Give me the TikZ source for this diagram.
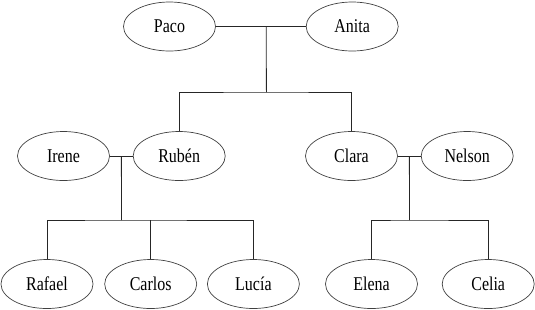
\documentclass[tikz,border=0pt]{standalone}
\usepackage{fontspec}
\newfontfamily\nameserif[FakeStretch=0.82]{Liberation Serif}
\usepackage{tikz}
\usetikzlibrary{positioning, shapes.geometric}
\tikzstyle{person} = [ellipse, draw=black!75, line width=0.7pt, minimum width=92pt,
  minimum height=49pt, inner sep=0pt, font=\nameserif\fontsize{19.5}{20}\selectfont]
\tikzstyle{link} = [draw=black!85, line width=0.8pt]
\begin{document}
\begin{tikzpicture}[x=1pt, y=-1pt]
    \useasboundingbox (0,0) rectangle (535,309);
    \node[person] (paco) at (169.5,26.5) {Paco};
    \node[person, right=90pt of paco] (anita) {Anita};
    \node[person] (irene) at (63.5,156) {Irene};
    \node[person, right=23pt of irene] (ruben) {Rubén};
    \node[person] (clara) at (351.5,156) {Clara};
    \node[person, right=23pt of clara] (nelson) {Nelson};
    \node[person] (rafael) at (47,284) {Rafael};
    \node[person, right=11pt of rafael] (carlos) {Carlos};
    \node[person, right=10pt of carlos] (lucia) {Lucía};
    \node[person] (elena) at (371.5,284) {Elena};
    \node[person, right=24pt of elena] (celia) {Celia};
    \coordinate (bar1) at (266.4,92);
    \coordinate (bar2) at (121.5,220);
    \coordinate (bar3) at (409.5,220);
    \draw[link] (paco) -- coordinate[pos=0.56] (pa) (anita);
    \draw[link] (pa) -- (bar1);
    \draw[link] (ruben.north) |- (bar1) -| (clara.north);
    \draw[link] (irene) -- coordinate[pos=0.5] (ir) (ruben);
    \draw[link] (ir) -- (bar2);
    \draw[link] (rafael.north) |- (bar2) -| (lucia.north);
    \draw[link] (carlos.north) -- (carlos.north |- bar2);
    \draw[link] (clara) -- coordinate[pos=0.5] (cn) (nelson);
    \draw[link] (cn) -- (bar3);
    \draw[link] (elena.north) |- (bar3) -| (celia.north);
  \end{tikzpicture}
\end{document}
